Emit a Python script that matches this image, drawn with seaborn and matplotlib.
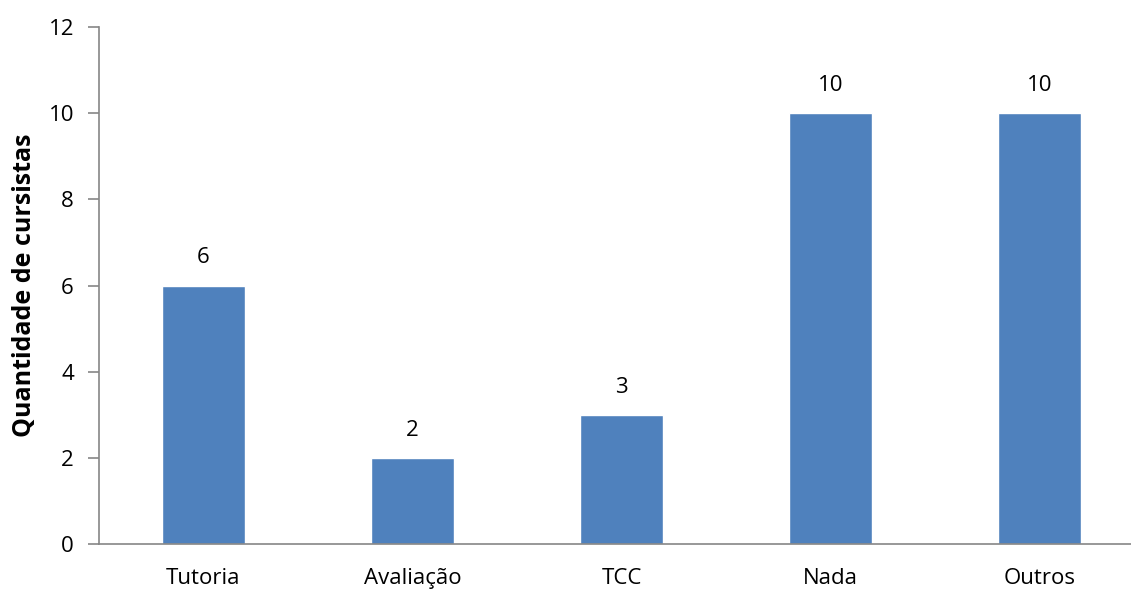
import matplotlib
matplotlib.use("Agg")
import matplotlib.pyplot as plt
import seaborn as sns
import pandas as pd

categorias = ["Tutoria", "Avaliação", "TCC", "Nada", "Outros"]
quantidades = [6, 2, 3, 10, 10]
yticks = [0, 2, 4, 6, 8, 10, 12]

sns.set_theme(style="white")
plt.rcParams["font.family"] = ["Open Sans", "DejaVu Sans"]

df = pd.DataFrame({"categoria": categorias, "quantidade": quantidades})

fig = plt.figure(figsize=(11.31, 5.90), dpi=100)
ax = fig.add_axes([0.0875, 0.078, 0.924, 0.876])

sns.barplot(data=df, x="categoria", y="quantidade", color="#4F81BD",
            saturation=1, width=0.40, ax=ax)

for i, v in enumerate(quantidades):
    ax.text(i, v + 0.4, str(v), ha="center", va="bottom", fontsize=16, color="black")

ax.set_ylim(0, 12)
ax.set_xlim(-0.5, len(categorias) - 0.5)
ax.set_yticks(yticks)
ax.set_yticklabels([str(t) for t in yticks], fontsize=16, color="black")
ax.tick_params(axis="x", labelsize=16, colors="black", length=0, pad=17)
ax.tick_params(axis="y", length=8, width=1.2, color="#868686", direction="out", pad=10, left=True)
ax.set_xlabel("")
ax.set_ylabel("Quantidade de cursistas", fontsize=18, fontweight="bold", color="black", labelpad=8)

for side in ["top", "right"]:
    ax.spines[side].set_visible(False)
for side in ["left", "bottom"]:
    ax.spines[side].set_color("#868686")
    ax.spines[side].set_linewidth(1.2)

fig.savefig("out.png", dpi=100)
